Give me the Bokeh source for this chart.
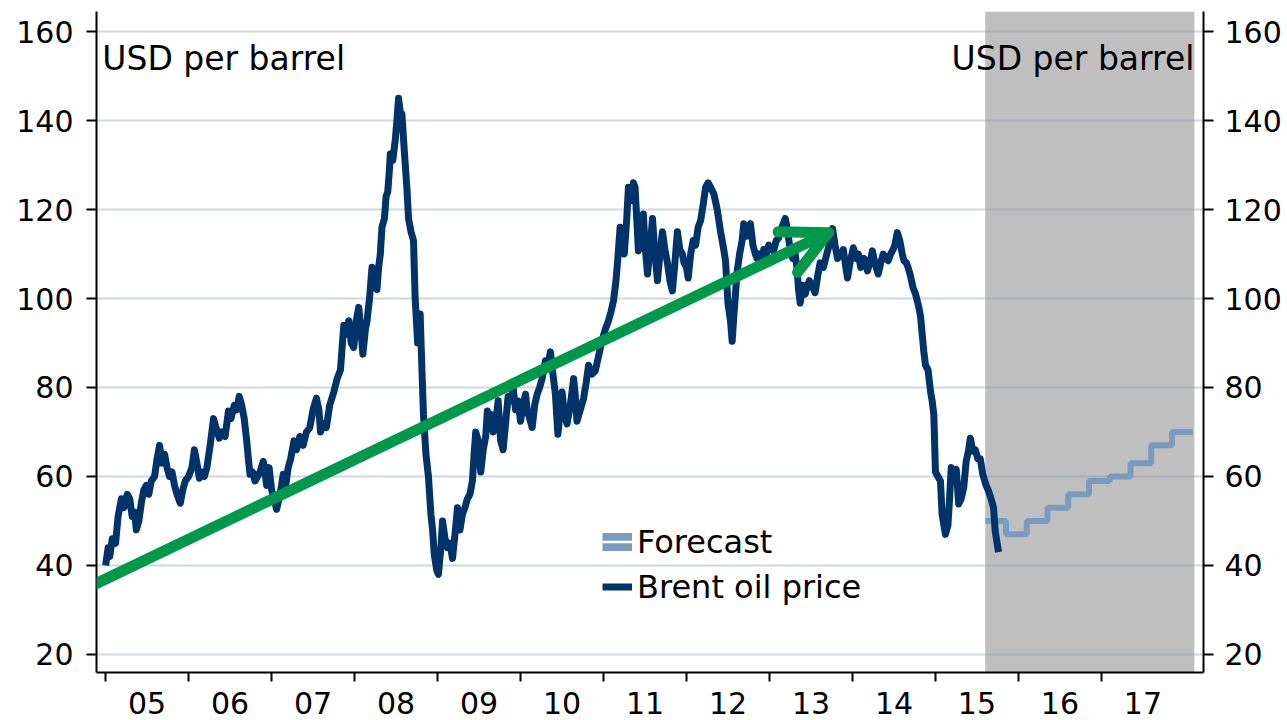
from bokeh.plotting import figure
from bokeh.models import (Range1d, LinearAxis, FixedTicker, BoxAnnotation, Label,
                          Arrow, OpenHead, Legend, LegendItem, ColumnDataSource, CDSView, IndexFilter)
from bokeh.embed import file_html
from bokeh.resources import INLINE

# ---------------- data ----------------
brent_dates = [
    2005.00, 2005.03, 2005.05, 2005.08, 2005.12, 2005.15, 2005.19, 2005.22, 2005.26, 2005.29, 2005.32, 2005.35, 2005.37, 2005.40, 2005.43, 2005.46, 2005.49, 2005.52, 2005.55, 2005.59, 2005.62, 2005.65, 2005.68, 2005.71, 2005.74, 2005.77, 2005.80, 2005.83, 2005.86, 2005.90, 2005.93, 2005.96,
    2006.00, 2006.04, 2006.07, 2006.10, 2006.13, 2006.16, 2006.19, 2006.22, 2006.26, 2006.30, 2006.33, 2006.37, 2006.40, 2006.44, 2006.48, 2006.51, 2006.55, 2006.58, 2006.61, 2006.64, 2006.67, 2006.70, 2006.72, 2006.74, 2006.77, 2006.80, 2006.83, 2006.86, 2006.90, 2006.92, 2006.94, 2006.97,
    2007.00, 2007.03, 2007.06, 2007.09, 2007.12, 2007.14, 2007.17, 2007.20, 2007.23, 2007.27, 2007.30, 2007.34, 2007.38, 2007.42, 2007.46, 2007.50, 2007.54, 2007.57, 2007.59, 2007.62, 2007.66, 2007.70, 2007.75, 2007.79, 2007.83, 2007.87, 2007.90, 2007.93, 2007.96, 2007.99,
    2008.02, 2008.05, 2008.08, 2008.10, 2008.13, 2008.15, 2008.18, 2008.21, 2008.24, 2008.27, 2008.29, 2008.31, 2008.33, 2008.36, 2008.38, 2008.40, 2008.42, 2008.43, 2008.46, 2008.49, 2008.51, 2008.53, 2008.55, 2008.57, 2008.60, 2008.63, 2008.65, 2008.68, 2008.71, 2008.73, 2008.76, 2008.79, 2008.81, 2008.83, 2008.86, 2008.89, 2008.92, 2008.94, 2008.96, 2008.99,
    2009.01, 2009.04, 2009.06, 2009.09, 2009.12, 2009.15, 2009.18, 2009.21, 2009.24, 2009.27, 2009.30, 2009.33, 2009.36, 2009.39, 2009.42, 2009.44, 2009.46, 2009.49, 2009.52, 2009.55, 2009.58, 2009.60, 2009.62, 2009.64, 2009.67, 2009.70, 2009.73, 2009.76, 2009.79, 2009.82, 2009.85, 2009.88, 2009.91, 2009.94, 2009.97,
    2010.00, 2010.03, 2010.06, 2010.08, 2010.11, 2010.14, 2010.17, 2010.20, 2010.23, 2010.26, 2010.30, 2010.33, 2010.36, 2010.39, 2010.42, 2010.45, 2010.48, 2010.50, 2010.53, 2010.56, 2010.60, 2010.64, 2010.66, 2010.68, 2010.72, 2010.76, 2010.79, 2010.82, 2010.86, 2010.90, 2010.94, 2010.98,
    2011.02, 2011.06, 2011.09, 2011.12, 2011.15, 2011.17, 2011.20, 2011.22, 2011.25, 2011.28, 2011.30, 2011.33, 2011.36, 2011.38, 2011.40, 2011.42, 2011.45, 2011.48, 2011.50, 2011.53, 2011.56, 2011.59, 2011.62, 2011.65, 2011.68, 2011.71, 2011.74, 2011.77, 2011.80, 2011.83, 2011.86, 2011.89, 2011.92, 2011.95, 2011.97,
    2012.00, 2012.02, 2012.05, 2012.08, 2012.11, 2012.14, 2012.17, 2012.20, 2012.23, 2012.26, 2012.29, 2012.33, 2012.37, 2012.41, 2012.44, 2012.47, 2012.50, 2012.53, 2012.55, 2012.57, 2012.59, 2012.61, 2012.64, 2012.67, 2012.69, 2012.72, 2012.75, 2012.77, 2012.80, 2012.83, 2012.85, 2012.88, 2012.91, 2012.93, 2012.96, 2012.99,
    2013.02, 2013.05, 2013.08, 2013.11, 2013.15, 2013.19, 2013.22, 2013.25, 2013.28, 2013.31, 2013.33, 2013.35, 2013.37, 2013.40, 2013.43, 2013.45, 2013.48, 2013.51, 2013.55, 2013.58, 2013.61, 2013.65, 2013.69, 2013.72, 2013.76, 2013.79, 2013.82, 2013.86, 2013.89, 2013.92, 2013.94, 2013.97,
    2014.01, 2014.04, 2014.07, 2014.10, 2014.14, 2014.18, 2014.21, 2014.24, 2014.27, 2014.31, 2014.34, 2014.37, 2014.40, 2014.43, 2014.46, 2014.49, 2014.51, 2014.54, 2014.57, 2014.60, 2014.62, 2014.65, 2014.67, 2014.70, 2014.73, 2014.76, 2014.80, 2014.82, 2014.84, 2014.86, 2014.88, 2014.91, 2014.94, 2014.96, 2014.98,
    2015.00, 2015.03, 2015.06, 2015.08, 2015.12, 2015.15, 2015.17, 2015.19, 2015.22, 2015.25, 2015.28, 2015.31, 2015.34, 2015.37, 2015.40, 2015.42, 2015.45, 2015.48, 2015.51, 2015.54, 2015.57, 2015.61, 2015.64, 2015.67, 2015.70, 2015.72, 2015.76,
]
brent_prices = [
    40, 44, 42, 46, 45, 51, 55, 53, 56, 55, 51, 52, 48, 50, 54, 57, 58, 56, 59, 60, 64, 67, 63, 65, 62, 60, 61, 58, 56, 54, 57, 59,
    60, 62, 66, 63, 59.6, 61, 60, 62, 67, 73, 71, 68.6, 70, 69, 74.7, 73, 76, 75, 78, 76, 73, 68, 64, 60.5, 61, 59, 60, 61, 63.4, 61, 58, 62,
    57, 55, 52.6, 55, 58, 60.5, 58, 62, 64, 68, 66, 69, 67, 70, 71, 75, 77.6, 75, 70, 72, 71, 76, 79, 82, 84, 94, 92, 95, 90, 89,
    95, 98, 92, 87.5, 93, 95, 100, 107, 103, 102, 107, 110, 116, 118, 123, 124, 129, 132.5, 131, 135.5, 140, 145, 142, 141.5, 133, 125, 118, 115, 113, 100, 90, 96.5, 85, 74, 65, 60, 51.5, 48, 42.5, 39,
    38, 44, 50, 46, 44, 45, 41.6, 47, 53, 48, 51.5, 53, 55, 56, 59, 65, 70, 68, 61, 66, 69, 74.7, 71, 74, 70, 72, 77, 68, 66, 72, 78, 77, 80, 75, 77,
    72.4, 76, 78.5, 75, 73, 71, 76, 78.5, 80, 82, 86, 85, 88, 83, 78.5, 69.5, 75, 79, 74, 71.8, 76, 82, 78, 72.4, 75, 77.6, 81, 85, 83, 83.7, 87, 90.4,
    93, 95, 97, 99.5, 104, 108.5, 116, 113, 110, 118, 125, 122, 126, 125, 118, 110.7, 113, 119, 112, 105.5, 111, 118, 110, 104, 110, 115, 111, 108, 104, 101.7, 108, 115, 111, 110, 108,
    107, 104.6, 110, 113, 112, 116, 117.5, 121, 125, 126, 125, 123.5, 120, 115, 112, 108.5, 98.8, 95, 90.4, 96, 101, 106, 110, 113, 116.8, 114, 116, 116.8, 112, 110, 109, 110, 108, 111, 110, 112,
    111, 110.7, 113, 113.6, 116, 118, 115, 110.7, 109, 110, 107, 102, 99, 103, 101, 102.4, 104, 103, 101.3, 105, 108, 107, 110, 112, 115.7, 112, 109, 110, 111, 107, 104.6, 108,
    111.4, 109, 110, 107, 109, 106.2, 108, 110.7, 108, 105.5, 108, 110, 109, 108.5, 110, 111, 112, 114.8, 113, 110, 108.5, 108, 107, 105, 102.4, 101, 98, 96, 92, 88, 85, 84, 79.2, 77, 74,
    61, 60, 59, 51.5, 47, 49, 55, 62, 60, 61.6, 53.8, 55, 57.4, 63.4, 66, 68.6, 65.7, 66, 64, 64, 60.5, 58, 56.7, 55, 53, 47.7, 43,
]
assert len(brent_dates) == len(brent_prices)

# quarterly forecast: step edges (decimal years) and levels
forecast_edges = [2015.60, 2015.85, 2016.10, 2016.35, 2016.60, 2016.85, 2017.10, 2017.35, 2017.60, 2017.85, 2018.10]
forecast_prices = [50, 47, 50, 53, 56, 59, 60, 63, 67, 70]

years = [2005, 2006, 2007, 2008, 2009, 2010, 2011, 2012, 2013, 2014, 2015, 2016, 2017]
year_labels = ["05", "06", "07", "08", "09", "10", "11", "12", "13", "14", "15", "16", "17"]
y_ticks = [20, 40, 60, 80, 100, 120, 140, 160]

shade_start, shade_end = 2015.60, 2018.12
trend_start = (2004.87, 35.8)
trend_end = (2013.71, 114.8)

# ---------------- style ----------------
FONT = "DejaVu Sans"
NAVY = "#00336A"
FC = "#7A9BC0"
GREEN = "#00984A"
GREY = "#BFBFBF"
TXT = "33px"
LEG = "32px"
TICK = "30px"

p = figure(width=1287, height=720,
           x_range=Range1d(2004.89, 2018.23), y_range=Range1d(15.95, 164.5),
           output_backend="svg", toolbar_location=None,
           min_border_left=96, min_border_right=84, min_border_top=11, min_border_bottom=48)
p.outline_line_color = None
p.background_fill_color = "white"

# shaded forecast period (under the grid)
p.add_layout(BoxAnnotation(left=shade_start, right=shade_end, fill_color=GREY, fill_alpha=1,
                           line_alpha=0, level="image"))

p.xgrid.visible = False
p.ygrid.ticker = FixedTicker(ticks=y_ticks)
p.ygrid.grid_line_color = "#8C9DAB"
p.ygrid.grid_line_alpha = 0.4
p.ygrid.grid_line_width = 2

# x axis: labels at mid-year, tick marks at year boundaries
xa = p.xaxis[0]
xa.ticker = FixedTicker(ticks=[y + 0.5 for y in years], minor_ticks=years)
xa.major_label_overrides = {y + 0.5: lab for y, lab in zip(years, year_labels)}
xa.major_tick_out = 0
xa.major_tick_in = 0
xa.minor_tick_out = 9
xa.minor_tick_in = 0
xa.minor_tick_line_color = "black"
xa.minor_tick_line_width = 2
xa.axis_line_width = 2
xa.axis_line_color = "black"
xa.major_label_standoff = 10
xa.major_label_text_font = FONT
xa.major_label_text_font_size = TICK
xa.major_label_text_color = "black"


def style_y(ax, standoff):
    ax.ticker = FixedTicker(ticks=y_ticks)
    ax.major_tick_out = 10
    ax.major_tick_in = 0
    ax.minor_tick_out = 0
    ax.minor_tick_in = 0
    ax.major_tick_line_width = 2
    ax.major_tick_line_color = "black"
    ax.axis_line_width = 2
    ax.axis_line_color = "black"
    ax.major_label_standoff = standoff
    ax.major_label_text_font = FONT
    ax.major_label_text_font_size = TICK
    ax.major_label_text_color = "black"


style_y(p.yaxis[0], 13)
ra = LinearAxis()
style_y(ra, 11)
p.add_layout(ra, "right")

# series
fc_source = ColumnDataSource(dict(x=forecast_edges, y=forecast_prices + [forecast_prices[-1]]))
r_fc = p.step("x", "y", source=fc_source, mode="after", line_width=6, line_color=FC)
r_brent = p.line(brent_dates, brent_prices, line_width=7, line_color=NAVY, line_join="round")

# legend-only glyphs for the double-bar forecast key: a one-point line draws nothing on the plot
r_key_fc = p.line("x", "y", source=fc_source, view=CDSView(filter=IndexFilter(indices=[0])),
                  line_width=18, line_color=FC)
r_key_gap = p.line("x", "y", source=fc_source, view=CDSView(filter=IndexFilter(indices=[0])),
                   line_width=2.5, line_color="white")

# trend arrow
p.add_layout(Arrow(x_start=trend_start[0], y_start=trend_start[1],
                   x_end=trend_end[0], y_end=trend_end[1],
                   line_color=GREEN, line_width=11, line_cap="round",
                   end=OpenHead(size=45, line_color=GREEN, line_width=11,
                                line_cap="round", line_join="round")))

# unit labels
p.add_layout(Label(x=2004.96, y=153.9, text="USD per barrel", text_align="left",
                   text_baseline="middle", text_font=FONT, text_font_size=TXT, text_color="black"))
p.add_layout(Label(x=2018.12, y=153.9, text="USD per barrel", text_align="right",
                   text_baseline="middle", text_font=FONT, text_font_size=TXT, text_color="black"))

legend = Legend(items=[LegendItem(label="Forecast", renderers=[r_key_fc, r_key_gap]),
                       LegendItem(label="Brent oil price", renderers=[r_brent])],
                location=(506, 63), orientation="vertical",
                glyph_width=30, glyph_height=45, label_height=45, label_standoff=5,
                padding=0, margin=0, spacing=0,
                background_fill_alpha=0, border_line_alpha=0,
                label_text_font=FONT, label_text_font_size=LEG, label_text_color="black")
p.add_layout(legend)

open("out.html", "w").write(file_html(p, INLINE))
